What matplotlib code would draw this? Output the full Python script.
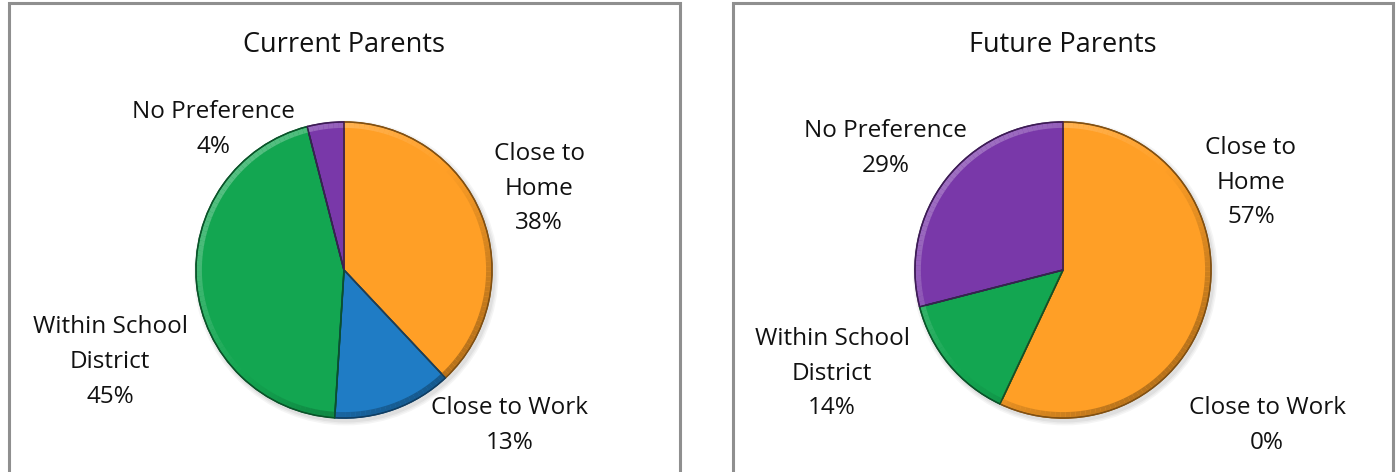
import numpy as np
import matplotlib
matplotlib.use("Agg")
import matplotlib.pyplot as plt
from matplotlib.patches import Wedge, Rectangle, Circle
from matplotlib.colors import to_rgb

plt.rcParams['font.family'] = ['Open Sans', 'DejaVu Sans']

# Survey data
categories = ["Close to Home", "Close to Work", "Within School District", "No Preference"]
current_pct = [38, 13, 45, 4]
future_pct = [57, 0, 14, 29]
titles = ["Current Parents", "Future Parents"]
colors = ["#FF9F26", "#1F7CC5", "#13A651", "#7938A9"]

W, H = 1399, 472
R_PX = 148

# panel boxes (pixels) and pie centres
panels = [
    dict(x0=9, x1=680, cx=344, cy=270, values=current_pct, title=titles[0],
         labels=[(1.32, 0.55), (1.12, -1.05), (-1.58, -0.62), (-0.88, 0.95)],
         text=["Close to\nHome", "Close to Work", "Within School\nDistrict", "No Preference"]),
    dict(x0=733, x1=1393, cx=1063, cy=270, values=future_pct, title=titles[1],
         labels=[(1.27, 0.59), (1.38, -1.05), (-1.56, -0.70), (-1.20, 0.82)],
         text=["Close to\nHome", "Close to Work", "Within School\nDistrict", "No Preference"]),
]


def shade(c, f):
    r = np.array(to_rgb(c))
    if f >= 0:
        return tuple(r + (1 - r) * f)
    return tuple(r * (1 + f))


fig = plt.figure(figsize=(W / 100, H / 100), dpi=100)

for p in panels:
    # panel frame
    fig.add_artist(Rectangle((p["x0"] / W, -0.1), (p["x1"] - p["x0"]) / W, 1.1 - 3 / H,
                             transform=fig.transFigure, fill=False,
                             edgecolor="#8F8F8F", lw=2.2))
    ax = fig.add_axes([p["x0"] / W, 0, (p["x1"] - p["x0"]) / W, 1])
    ax.set_xlim(-(p["cx"] - p["x0"]) / R_PX, (p["x1"] - p["cx"]) / R_PX)
    ax.set_ylim(-(H - p["cy"]) / R_PX, p["cy"] / R_PX)
    ax.axis("off")

    # soft drop shadow
    for k, a in enumerate([0.04, 0.04, 0.05]):
        ax.add_patch(Circle((0.015, -0.02), 1.0 + 0.01 * (3 - k), color="black",
                            alpha=a, lw=0, zorder=1))

    vals = np.array(p["values"], dtype=float)
    total = vals.sum()
    start = 90.0
    for v, col in zip(vals, colors):
        if v <= 0:
            continue
        sweep = 360.0 * v / total
        t1, t2 = start - sweep, start
        ax.add_patch(Wedge((0, 0), 1.0, t1, t2, facecolor=col,
                           edgecolor=shade(col, -0.45), lw=1.2, zorder=2))
        # bevelled rim: lighter towards upper-left, darker towards lower-right
        n = max(int(sweep / 2), 1)
        edges = np.linspace(t1, t2, n + 1)
        for a0, a1 in zip(edges[:-1], edges[1:]):
            mid = np.radians((a0 + a1) / 2)
            f = 0.28 * np.cos(mid - np.radians(135))
            ax.add_patch(Wedge((0, 0), 0.995, a0, a1, width=0.035,
                               facecolor=shade(col, f), lw=0, zorder=3))
        ax.add_patch(Wedge((0, 0), 1.0, t1, t2, facecolor="none",
                           edgecolor=shade(col, -0.5), lw=1.0, zorder=4))
        start -= sweep

    for (lx, ly), txt, v in zip(p["labels"], p["text"], vals):
        ax.text(lx, ly, f"{txt}\n{v:.0f}%", ha="center", va="center",
                fontsize=17.5, linespacing=1.6, color="#111111", zorder=5)

    ax.text(0, (p["cy"] - 45) / R_PX, p["title"], ha="center", va="center",
            fontsize=19.5, color="#111111")

fig.savefig("out.png", dpi=100, facecolor="white")
